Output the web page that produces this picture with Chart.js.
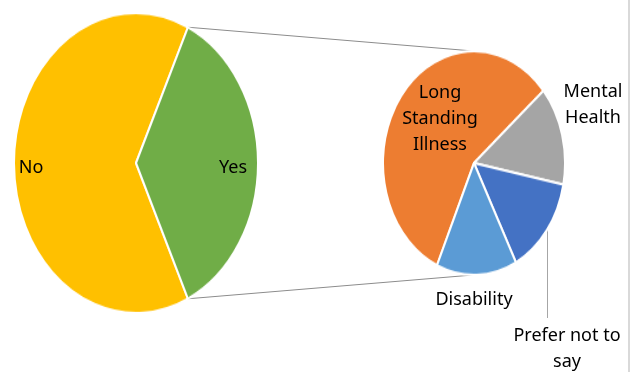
<!DOCTYPE html>
<html>
<head>
<meta charset="utf-8">
<script src="https://cdn.jsdelivr.net/npm/chart.js@4/dist/chart.umd.min.js"></script>
<style>
  html, body { margin: 0; padding: 0; background: #fff; }
  #stage { position: relative; width: 640px; height: 372px; overflow: hidden; font-family: "Noto Sans", sans-serif; }
  #links { position: absolute; left: 0; top: 0; }
  .pie { position: absolute; transform-origin: 50% 50%; }
  .lbl { position: absolute; transform: translate(-50%, -50%); font-size: 18px; line-height: 26px; color: #000; text-align: center; white-space: nowrap; }
  #edge { position: absolute; left: 628px; top: 0; width: 2px; height: 372px; background: #d9d9d9; }
</style>
</head>
<body>
<div id="stage">
  <canvas id="links" width="640" height="372"></canvas>
  <div class="pie" id="mainBox"><canvas id="mainPie"></canvas></div>
  <div class="pie" id="detailBox"><canvas id="detailPie"></canvas></div>
  <div id="edge"></div>
</div>
<script>
// data
const mainLabels = ['No', 'Yes'];
const mainValues = [64, 36];
const mainColors = ['#FFC000', '#70AD47'];

const detailLabels = ['Long Standing Illness', 'Mental Health', 'Prefer not to say', 'Disability'];
const detailValues = [4, 1, 1, 1];
const detailColors = ['#ED7D31', '#A5A5A5', '#4472C4', '#5B9BD5'];

// both pies are drawn as circles and stretched vertically, like the excel original
const STRETCH = 1.23;

const mainBox = { left: 13, top: 40, size: 246 };
const detailBox = { left: 382, top: 71, size: 184 };

// label text lines and their centres on the page
const labelSpots = [
  { lines: ['No'], x: 31, y: 166 },
  { lines: ['Yes'], x: 233, y: 166 },
  { lines: ['Long', 'Standing', 'Illness'], x: 440, y: 117 },
  { lines: ['Mental', 'Health'], x: 593, y: 103 },
  { lines: ['Disability'], x: 474, y: 298 },
  { lines: ['Prefer not to', 'say'], x: 567, y: 347 },
];

function makePie(id, box, labels, values, colors, rotation) {
  const wrap = document.getElementById(id + 'Box');
  wrap.style.left = box.left + 'px';
  wrap.style.top = box.top + 'px';
  wrap.style.width = box.size + 'px';
  wrap.style.height = box.size + 'px';
  wrap.style.transform = `scaleY(${STRETCH})`;

  const canvas = document.getElementById(id + 'Pie');
  canvas.width = box.size;
  canvas.height = box.size;

  return new Chart(canvas.getContext('2d'), {
    type: 'pie',
    data: {
      labels: labels,
      datasets: [
        {
          data: values,
          backgroundColor: colors,
          borderColor: '#ffffff',
          borderWidth: 2,
          hoverOffset: 0,
        },
      ],
    },
    options: {
      responsive: false,
      animation: false,
      events: [],
      rotation: rotation,
      layout: { padding: 0 },
      plugins: {
        legend: { display: false },
        tooltip: { enabled: false },
      },
    },
  });
}

// "Yes" slice centred on the right side, big slice of the second pie starting lower left
const yesShare = mainValues[1] / (mainValues[0] + mainValues[1]);
const mainChart = makePie('main', mainBox, mainLabels, mainValues, mainColors, 90 + yesShare * 180);
const detailChart = makePie('detail', detailBox, detailLabels, detailValues, detailColors, 204);

function toPage(box, px, py) {
  return [box.left + px, box.top + box.size / 2 + (py - box.size / 2) * STRETCH];
}

function drawLinks() {
  const ctx = document.getElementById('links').getContext('2d');
  const yes = mainChart.getDatasetMeta(0).data[1];
  const r = yes.outerRadius;
  const top = toPage(mainBox, yes.x + r * Math.cos(yes.startAngle), yes.y + r * Math.sin(yes.startAngle));
  const bottom = toPage(mainBox, yes.x + r * Math.cos(yes.endAngle), yes.y + r * Math.sin(yes.endAngle));

  const d = detailChart.getDatasetMeta(0).data[0];
  const dTop = toPage(detailBox, d.x, d.y - d.outerRadius);
  const dBottom = toPage(detailBox, d.x, d.y + d.outerRadius);

  ctx.strokeStyle = '#8c8c8c';
  ctx.lineWidth = 1;
  ctx.beginPath();
  ctx.moveTo(top[0], top[1]);
  ctx.lineTo(dTop[0], dTop[1]);
  ctx.moveTo(bottom[0], bottom[1]);
  ctx.lineTo(dBottom[0], dBottom[1]);
  ctx.stroke();

  // leader line from the "Prefer not to say" slice down to its label
  const centre = toPage(detailBox, d.x, d.y);
  const rx = d.outerRadius;
  const ry = d.outerRadius * STRETCH;
  const lx = 547.5;
  const edgeY = centre[1] + ry * Math.sqrt(1 - Math.pow((lx - centre[0]) / rx, 2));
  ctx.strokeStyle = '#a6a6a6';
  ctx.beginPath();
  ctx.moveTo(lx, edgeY - 4);
  ctx.lineTo(lx, 318);
  ctx.stroke();
}

function drawLabels() {
  const stage = document.getElementById('stage');
  labelSpots.forEach((spot) => {
    const el = document.createElement('div');
    el.className = 'lbl';
    el.style.left = spot.x + 'px';
    el.style.top = spot.y + 'px';
    el.innerHTML = spot.lines.join('<br>');
    stage.appendChild(el);
  });
}

drawLinks();
drawLabels();
</script>
</body>
</html>
